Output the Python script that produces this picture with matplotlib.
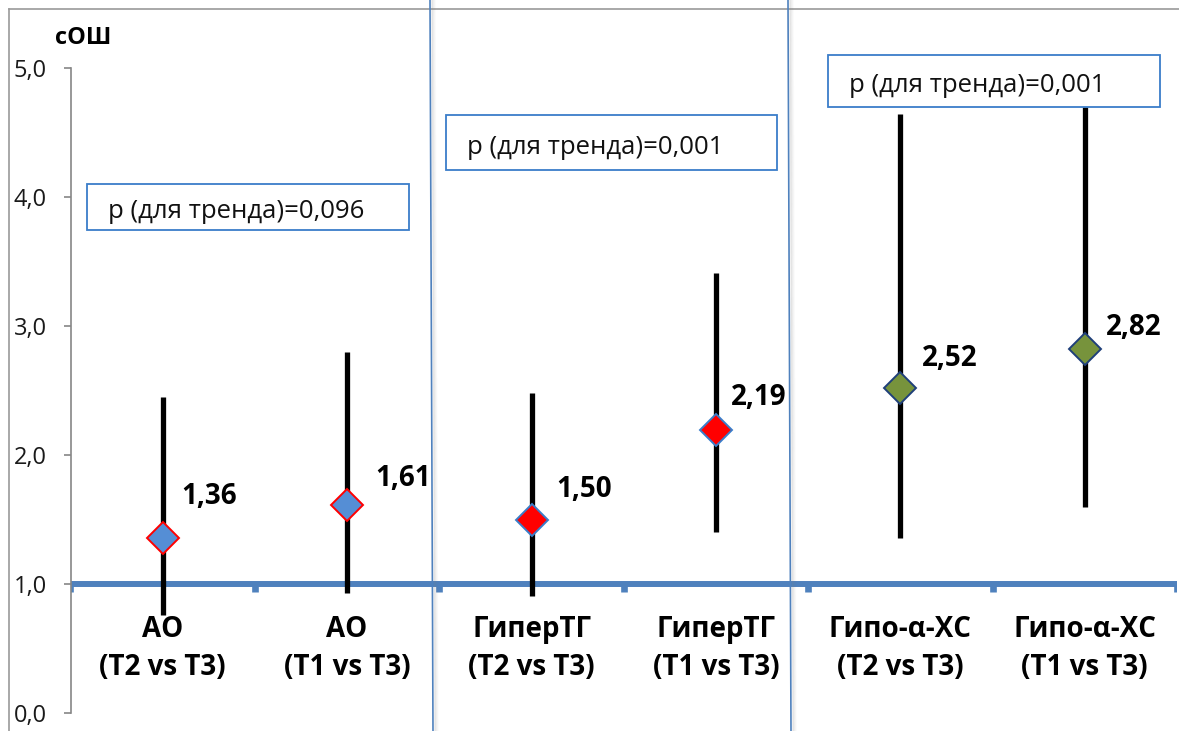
import matplotlib
matplotlib.use('Agg')
import matplotlib.pyplot as plt
from matplotlib.patches import Rectangle
from matplotlib.lines import Line2D

plt.rcParams['font.family'] = ['Open Sans', 'DejaVu Sans']

# data
groups = ['АО', 'АО', 'ГиперТГ', 'ГиперТГ', 'Гипо-α-ХС', 'Гипо-α-ХС']
comparisons = ['(T2 vs T3)', '(T1 vs T3)', '(T2 vs T3)', '(T1 vs T3)', '(T2 vs T3)', '(T1 vs T3)']
odds = [1.36, 1.61, 1.50, 2.19, 2.52, 2.82]
ci_low = [0.76, 0.93, 0.91, 1.40, 1.36, 1.60]
ci_high = [2.45, 2.80, 2.48, 3.41, 4.64, 4.70]
p_trend = ['0,096', '0,001', '0,001']
yticks = [0.0, 1.0, 2.0, 3.0, 4.0, 5.0]

# styling
fill_colors = ['#558ED5', '#558ED5', '#FF0000', '#FF0000', '#77933C', '#77933C']
edge_colors = ['#FF0000', '#FF0000', '#3A7DC9', '#3A7DC9', '#1F3F7A', '#1F3F7A']
label_off = [(19, 41), (28, 27), (25, 30), (15, 33), (22, 29), (21, 22)]  # px right / up
blue = '#4F81BD'
gray = '#868686'

W, H = 1179, 731
fig = plt.figure(figsize=(W / 100, H / 100), dpi=100)
fig.patch.set_facecolor('white')


def fx(x):
    return x / W


def fy(y):
    return 1 - y / H


ax = fig.add_axes([fx(70.5), fy(713), (1177 - 70.5) / W, 645 / H])
ax.set_xlim(-0.5, 5.5)
ax.set_ylim(0, 5)
for s in ['top', 'right', 'bottom']:
    ax.spines[s].set_visible(False)
ax.spines['left'].set_color(gray)
ax.spines['left'].set_linewidth(1.2)
ax.set_xticks([])
ax.set_yticks(yticks)
ax.set_yticklabels([f'{t:.1f}'.replace('.', ',') for t in yticks], fontsize=17, color='#1a1a1a')
ax.tick_params(axis='y', length=5, width=1.2, color=gray, pad=12)

# baseline at 1.0 with category ticks
ax.axhline(1.0, color=blue, lw=4.3, zorder=2)
bounds = [i + 0.5 for i in range(-1, 6)]
ax.vlines(bounds, 0.935, 1.0, color=blue, lw=4.8, zorder=2)

xs = list(range(len(odds)))
ax.vlines(xs, ci_low, ci_high, color='black', lw=3.8, zorder=3)
for i in xs:
    ax.plot(i, odds[i], marker='D', markersize=16.5, markerfacecolor=fill_colors[i],
            markeredgecolor=edge_colors[i], markeredgewidth=1.4, zorder=4)
    ax.annotate(f'{odds[i]:.2f}'.replace('.', ','), (i, odds[i]),
                xytext=label_off[i], textcoords='offset pixels',
                ha='left', va='center', fontsize=20, fontweight='bold')
    ax.text(i, 0.5, groups[i] + '\n' + comparisons[i], ha='center', va='center',
            fontsize=20, fontweight='bold', linespacing=1.4)

fig.text(fx(55), fy(38), 'сОШ', fontsize=17, fontweight='bold', va='center', ha='left')

# outer border
fig.add_artist(Line2D([fx(8.5), fx(8.5)], [fy(8.5), 0], transform=fig.transFigure, color='#9a9a9a', lw=1.2))
fig.add_artist(Line2D([fx(8.5), 1], [fy(8.5), fy(8.5)], transform=fig.transFigure, color='#9a9a9a', lw=1.2))

# separators with slight shadow
for x0, x1 in [(430, 433), (788, 791)]:
    for k, a in enumerate([0.18, 0.12, 0.07, 0.04]):
        fig.add_artist(Line2D([fx(x0 + 2 + k), fx(x1 + 2 + k)], [1, 0], transform=fig.transFigure,
                              color='#808080', lw=1, alpha=a, zorder=5))
    fig.add_artist(Line2D([fx(x0), fx(x1)], [1, 0], transform=fig.transFigure,
                          color=blue, lw=1.2, zorder=6))

# p-trend boxes
boxes = [(87, 184, 409, 230), (446, 115, 777, 170), (828, 55, 1160, 107)]
for (l, t, r, b), p in zip(boxes, p_trend):
    fig.add_artist(Rectangle((fx(l), fy(b)), fx(r - l), (b - t) / H, transform=fig.transFigure,
                             facecolor='white', edgecolor='#3A7DC9', lw=1.3, zorder=7))
    fig.text(fx(l + 21), fy((t + b) / 2 + 5), f'p (для тренда)={p}', fontsize=18.5,
             ha='left', va='center', zorder=8, color='#111111')

fig.savefig('out.png', dpi=100)
